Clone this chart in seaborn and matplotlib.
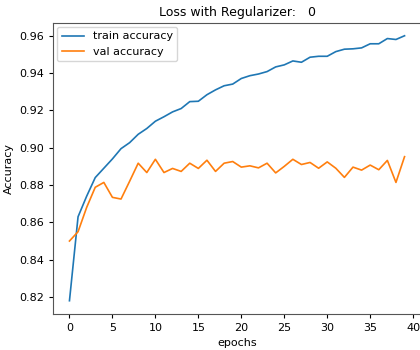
import matplotlib
matplotlib.use("Agg")
import matplotlib.pyplot as plt
import seaborn as sns
import pandas as pd
import numpy as np

epochs = list(range(40))
train_accuracy = [0.818, 0.863, 0.874, 0.884, 0.889, 0.894, 0.8995, 0.9027, 0.9072, 0.9103,
                  0.9142, 0.9166, 0.9192, 0.921, 0.9247, 0.9249, 0.9284, 0.931, 0.9332, 0.9341,
                  0.9371, 0.9386, 0.9395, 0.9408, 0.9433, 0.9444, 0.9465, 0.9458, 0.9485, 0.949,
                  0.949, 0.9515, 0.9528, 0.953, 0.9535, 0.9557, 0.9557, 0.9585, 0.958, 0.960]
val_accuracy = [0.850, 0.855, 0.868, 0.8788, 0.8814, 0.8734, 0.8725, 0.882, 0.8917, 0.8867,
                0.8938, 0.8867, 0.8889, 0.8873, 0.8917, 0.8889, 0.8933, 0.8873, 0.8917, 0.8926,
                0.8896, 0.8903, 0.8892, 0.8917, 0.8865, 0.890, 0.8938, 0.891, 0.8921, 0.889,
                0.8924, 0.889, 0.8841, 0.8896, 0.888, 0.8907, 0.8882, 0.8932, 0.8814, 0.8952]
series_names = ["train accuracy", "val accuracy"]
title_text = "Loss with Regularizer:   0"

df = pd.DataFrame({
    "epochs": epochs * 2,
    "Accuracy": train_accuracy + val_accuracy,
    "series": [series_names[0]] * len(epochs) + [series_names[1]] * len(epochs),
})

plt.rcParams.update({
    "font.family": ["DejaVu Sans"],
    "font.size": 8,
    "axes.linewidth": 0.8,
    "xtick.major.size": 2.8,
    "ytick.major.size": 2.8,
})

fig = plt.figure(figsize=(4.2, 3.5), dpi=100)
ax = fig.add_axes([0.1255, 0.1029, 0.8776, 0.8328])
sns.lineplot(data=df, x="epochs", y="Accuracy", hue="series",
             palette=["#1f77b4", "#ff7f0e"], linewidth=1.2, ax=ax)
ax.set_xticks([0, 5, 10, 15, 20, 25, 30, 35, 40])
ax.set_yticks([0.82, 0.84, 0.86, 0.88, 0.90, 0.92, 0.94, 0.96])
ax.set_xlim(-1.95, 40.95)
ax.set_ylim(0.8109, 0.9671)
ax.set_xlabel("epochs", fontsize=8)
ax.set_ylabel("Accuracy", fontsize=8)
ax.set_title(title_text, fontsize=9, pad=5)
for s in ax.spines.values():
    s.set_color("#555555")
leg = ax.legend(loc="upper left", fontsize=8, title=None, frameon=True,
                borderaxespad=0.4, handlelength=2.0)
fig.savefig("out.png", dpi=100)
